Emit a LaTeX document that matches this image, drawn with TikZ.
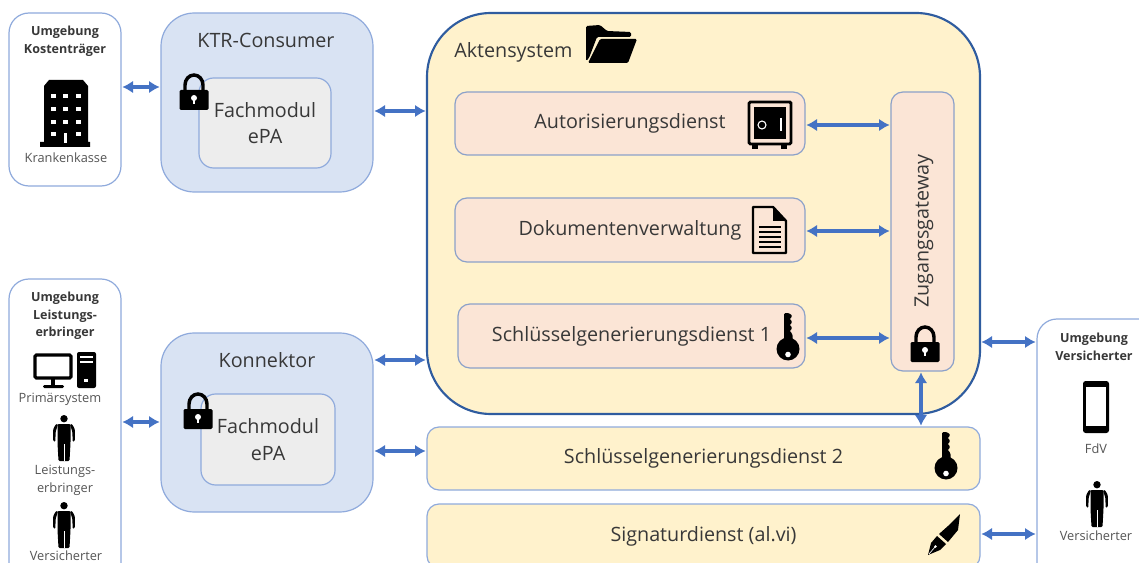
\documentclass[tikz,border=0pt]{standalone}
\usepackage{fontspec}
\setmainfont{Open Sans}
\usetikzlibrary{arrows.meta,calc}
\definecolor{bluefill}{HTML}{D9E3F3}
\definecolor{edge}{HTML}{8FAADC}
\definecolor{deep}{HTML}{2F5C9F}
\definecolor{arrowblue}{HTML}{4472C4}
\definecolor{sand}{HTML}{FFF2CC}
\definecolor{peach}{HTML}{FBE5D6}
\definecolor{graybox}{HTML}{EDEDED}
\definecolor{ink}{HTML}{383838}
\definecolor{softink}{HTML}{555555}
\newcommand{\pxbox}[7]{%
  \pgfmathsetmacro{\cxv}{(#3+#5)/2}\pgfmathsetmacro{\cyv}{(#4+#6)/2}%
  \pgfmathsetmacro{\wv}{(#5-#3)*0.75}\pgfmathsetmacro{\hv}{(#6-#4)*0.75}%
  \node[#2,minimum width=\wv pt,minimum height=\hv pt] (#1) at (\cxv,\cyv) {#7};}
\newcommand{\lowered}[1]{\raisebox{-1.4pt}{#1}}
\tikzset{
  x=0.75pt,y=-0.75pt,
  base/.style={rectangle,draw=edge,line width=0.9pt,outer sep=0pt,inner sep=0pt,align=center,text=ink,font=\fontsize{14.8}{20}\selectfont},
  white box/.style={base,fill=white,rounded corners=15pt},
  blue box/.style={base,fill=bluefill,rounded corners=25pt},
  module box/.style={base,fill=graybox,rounded corners=11pt},
  sand box/.style={base,fill=sand,rounded corners=9pt},
  peach box/.style={base,fill=peach,rounded corners=9pt,draw=edge!80!gray},
  big box/.style={base,fill=sand,draw=deep,line width=1.6pt,rounded corners=48pt},
  title/.style={text=ink,font=\fontsize{14.8}{18}\selectfont,inner sep=0pt},
  headtext/.style={text=ink,font=\bfseries\fontsize{9.4}{13.2}\selectfont,align=center,inner sep=0pt},
  small/.style={text=softink,font=\fontsize{9.6}{13.5}\selectfont,align=center,inner sep=0pt},
  link/.style={draw=arrowblue,line width=2.4pt,{Latex[length=8pt,width=9.5pt]}-{Latex[length=8pt,width=9.5pt]},shorten <=1pt,shorten >=1pt},
  lockicon/.pic={
    \draw[black,line width=2.6pt] (-9,-17) -- (-9,-25) arc[start angle=180,end angle=0,x radius=9,y radius=-10] -- (9,-17);
    \fill[black,rounded corners=1pt] (-14.5,-20) rectangle (14.5,0);
    \fill[white] (0,-12) circle[radius=3];
    \fill[white] (-1.3,-11) rectangle (1.3,-6);
  },
  personicon/.pic={
    \fill[black] (0,3.7) circle[radius=3.7];
    \fill[black,rounded corners=0.8pt] (-6.5,9) -- (6.5,9) -- (6.5,28) -- (5.5,46) -- (-5.5,46) -- (-6.5,28) -- cycle;
    \fill[black,rounded corners=0.8pt] (6,9) -- (8,9) -- (10.8,14) -- (10.8,26) -- (8.8,27) -- (8.2,16) -- (7.4,14) -- cycle;
    \fill[black,rounded corners=0.8pt] (-6,9) -- (-8,9) -- (-10.8,14) -- (-10.8,26) -- (-8.8,27) -- (-8.2,16) -- (-7.4,14) -- cycle;
    \draw[white,line width=0.6pt] (0,29) -- (0,46);
  },
  keyicon/.pic={
    \fill[black,rounded corners=1pt] (-4,0) -- (1,0) -- (4.5,3) -- (1.5,6) -- (4.5,9) -- (1.5,12) -- (4.5,15) -- (1.5,18) -- (4.5,21) -- (4.5,30) -- (-4,30) -- cycle;
    \fill[black] (0,36) circle[radius=11.5];
    \fill[white] (0,41.5) circle[radius=2.8];
  },
  penicon/.pic={
    \fill[black] (32,0) -- (30,16) -- (20,28) -- (11,20) -- (20,12) -- cycle;
    \fill[black] (9,22) -- (18,30) -- (12,36) -- (0,41) -- (3,29) -- cycle;
    \draw[white,line width=0.5pt] (1,40) -- (7,33);
    \fill[white] (7.5,32.5) circle[radius=1.3];
  },
}
\begin{document}
\begin{tikzpicture}
\useasboundingbox (0,0) rectangle (1139,563);
\clip (0,0) rectangle (1139,563);
% boxes
\pxbox{kasse}{white box}{9}{13}{121}{186}{}
\pxbox{leist}{white box}{9}{279}{121}{585}{}
\pxbox{versi}{white box}{1037}{319}{1175}{585}{}
\pxbox{ktr}{blue box}{161}{13}{373}{192}{}
\pxbox{konn}{blue box}{161}{333}{373}{512}{}
\pxbox{fmktr}{module box}{199}{78}{331}{168}{Fachmodul\\ePA}
\pxbox{fmkon}{module box}{201}{394}{335}{485}{Fachmodul\\ePA}
\pxbox{akten}{big box}{427}{13}{980}{414}{}
\pxbox{autor}{peach box}{455}{92}{805}{155}{\lowered{Autorisierungsdienst}}
\pxbox{doku}{peach box}{455}{198}{805}{262}{\lowered{Dokumentenverwaltung}}
\pxbox{sgd}{peach box}{458}{304}{805}{368}{\lowered{Schlüsselgenerierungsdienst 1}}
\pxbox{gate}{peach box}{891}{92}{954}{371}{}
\pxbox{sgz}{sand box}{427}{427}{980}{490}{\lowered{Schlüsselgenerierungsdienst 2}}
\pxbox{sign}{sand box}{427}{504}{980}{568}{Signaturdienst (al.vi)}
% titles
\node[title] (tktr) at (266,40) {KTR-Consumer};
\node[title] (tkon) at (267,360) {Konnektor};
\node[title,anchor=west] (takt) at (454,52) {Aktensystem};
\node[title,rotate=90] (tgat) at (924,231) {Zugangsgateway};
\node[headtext] (h1) at (65,41.5) {Umgebung\\Kostenträger};
\node[small] (s1) at (66,158) {Krankenkasse};
\node[headtext] (h2) at (65,316) {Umgebung\\Leistungs-\\erbringer};
\node[small] (s2) at (60,399) {Primärsystem};
\node[small] (s3) at (65,480) {Leistungs-\\erbringer};
\node[small] (s4) at (66,556) {Versicherter};
\node[headtext] (h3) at (1094,347) {Umgebung\\Versicherter};
\node[small] (s5) at (1096,449) {FdV};
\node[small] (s6) at (1096,536) {Versicherter};
% connectors
\draw[link] (kasse.east |- 0,87) -- (ktr.west |- 0,87);
\draw[link] (ktr.east |- 0,111) -- (akten.west |- 0,111);
\draw[link] (leist.east |- 0,422) -- (konn.west |- 0,422);
\draw[link] (konn.east |- 0,360) -- (akten.west |- 0,360);
\draw[link] (konn.east |- 0,451) -- (sgz.west |- 0,451);
\draw[link] (autor.east |- 0,125) -- (gate.west |- 0,125);
\draw[link] (doku.east |- 0,231) -- (gate.west |- 0,231);
\draw[link] (sgd.east |- 0,338) -- (gate.west |- 0,338);
\draw[link] (akten.east |- 0,342) -- (versi.west |- 0,342);
\draw[link] (sign.east |- 0,534) -- (versi.west |- 0,534);
\draw[link] (gate.south -| 921,0) -- (sgz.north -| 921,0);
% icons
\pic at (194,110) {lockicon};
\pic at (198,429) {lockicon};
\pic at (925,362) {lockicon};
\pic at (64,415) {personicon};
\pic at (64,502) {personicon};
\pic at (1097,481) {personicon};
\pic at (788,313) {keyicon};
\pic at (946,432) {keyicon};
\pic at (928,514) {penicon};
% building
\fill[black] (44,86) -- (49,80) -- (83,80) -- (88,86) -- (88,142) -- (90,142) -- (90,147) -- (40,147) -- (40,142) -- (44,142) -- cycle;
\foreach \r in {96,109,122,134}{\foreach \c in {53,65,78}{\fill[white] (\c-2.5,\r-2) rectangle (\c+2.5,\r+2);}}
\fill[black] (62,131) rectangle (68,137);
\fill[white] (63.5,133) rectangle (67,143);
% computer
\draw[black,line width=2.4pt,rounded corners=1pt] (35,355) rectangle (71,378);
\fill[black] (51,379) rectangle (55,386);
\fill[black,rounded corners=1pt] (43,385) rectangle (64,388);
\fill[black,rounded corners=1.5pt] (77,352) rectangle (96,388);
\fill[white] (80,356) rectangle (93,358);
\fill[white] (80,361) rectangle (93,363);
\fill[white] (84,379) rectangle (88,382);
% folder
\fill[black,rounded corners=1pt] (586,61) -- (586,26) -- (600,25) -- (607,31) -- (631,32) -- (631,37) -- (597,37) -- (589,58) -- cycle;
\fill[black,rounded corners=1pt] (600,39) -- (637,39) -- (628,63) -- (588,63) -- cycle;
% safe
\draw[black,line width=2.2pt,rounded corners=1pt] (749,102) rectangle (791,144);
\fill[black] (754,107) rectangle (786,139);
\draw[white,line width=0.8pt] (762,125) circle[radius=4];
\draw[white,line width=1pt] (781,118) -- (781,131);
\fill[black] (752,145) rectangle (758,149);
\fill[black] (781,145) rectangle (787,149);
% document
\draw[black,line width=1.8pt,line join=round] (753,207) -- (773,207) -- (786,221) -- (786,253) -- (753,253) -- cycle;
\fill[black] (773,208) -- (773,221) -- (786,221) -- cycle;
\foreach \r in {226,231,236,241,246}{\fill[black] (759,\r) rectangle (781,\r+2);}
% phone
\fill[black,rounded corners=2pt] (1083,381) rectangle (1109,433);
\fill[white] (1086,387) rectangle (1106,426);
\end{tikzpicture}
\end{document}
